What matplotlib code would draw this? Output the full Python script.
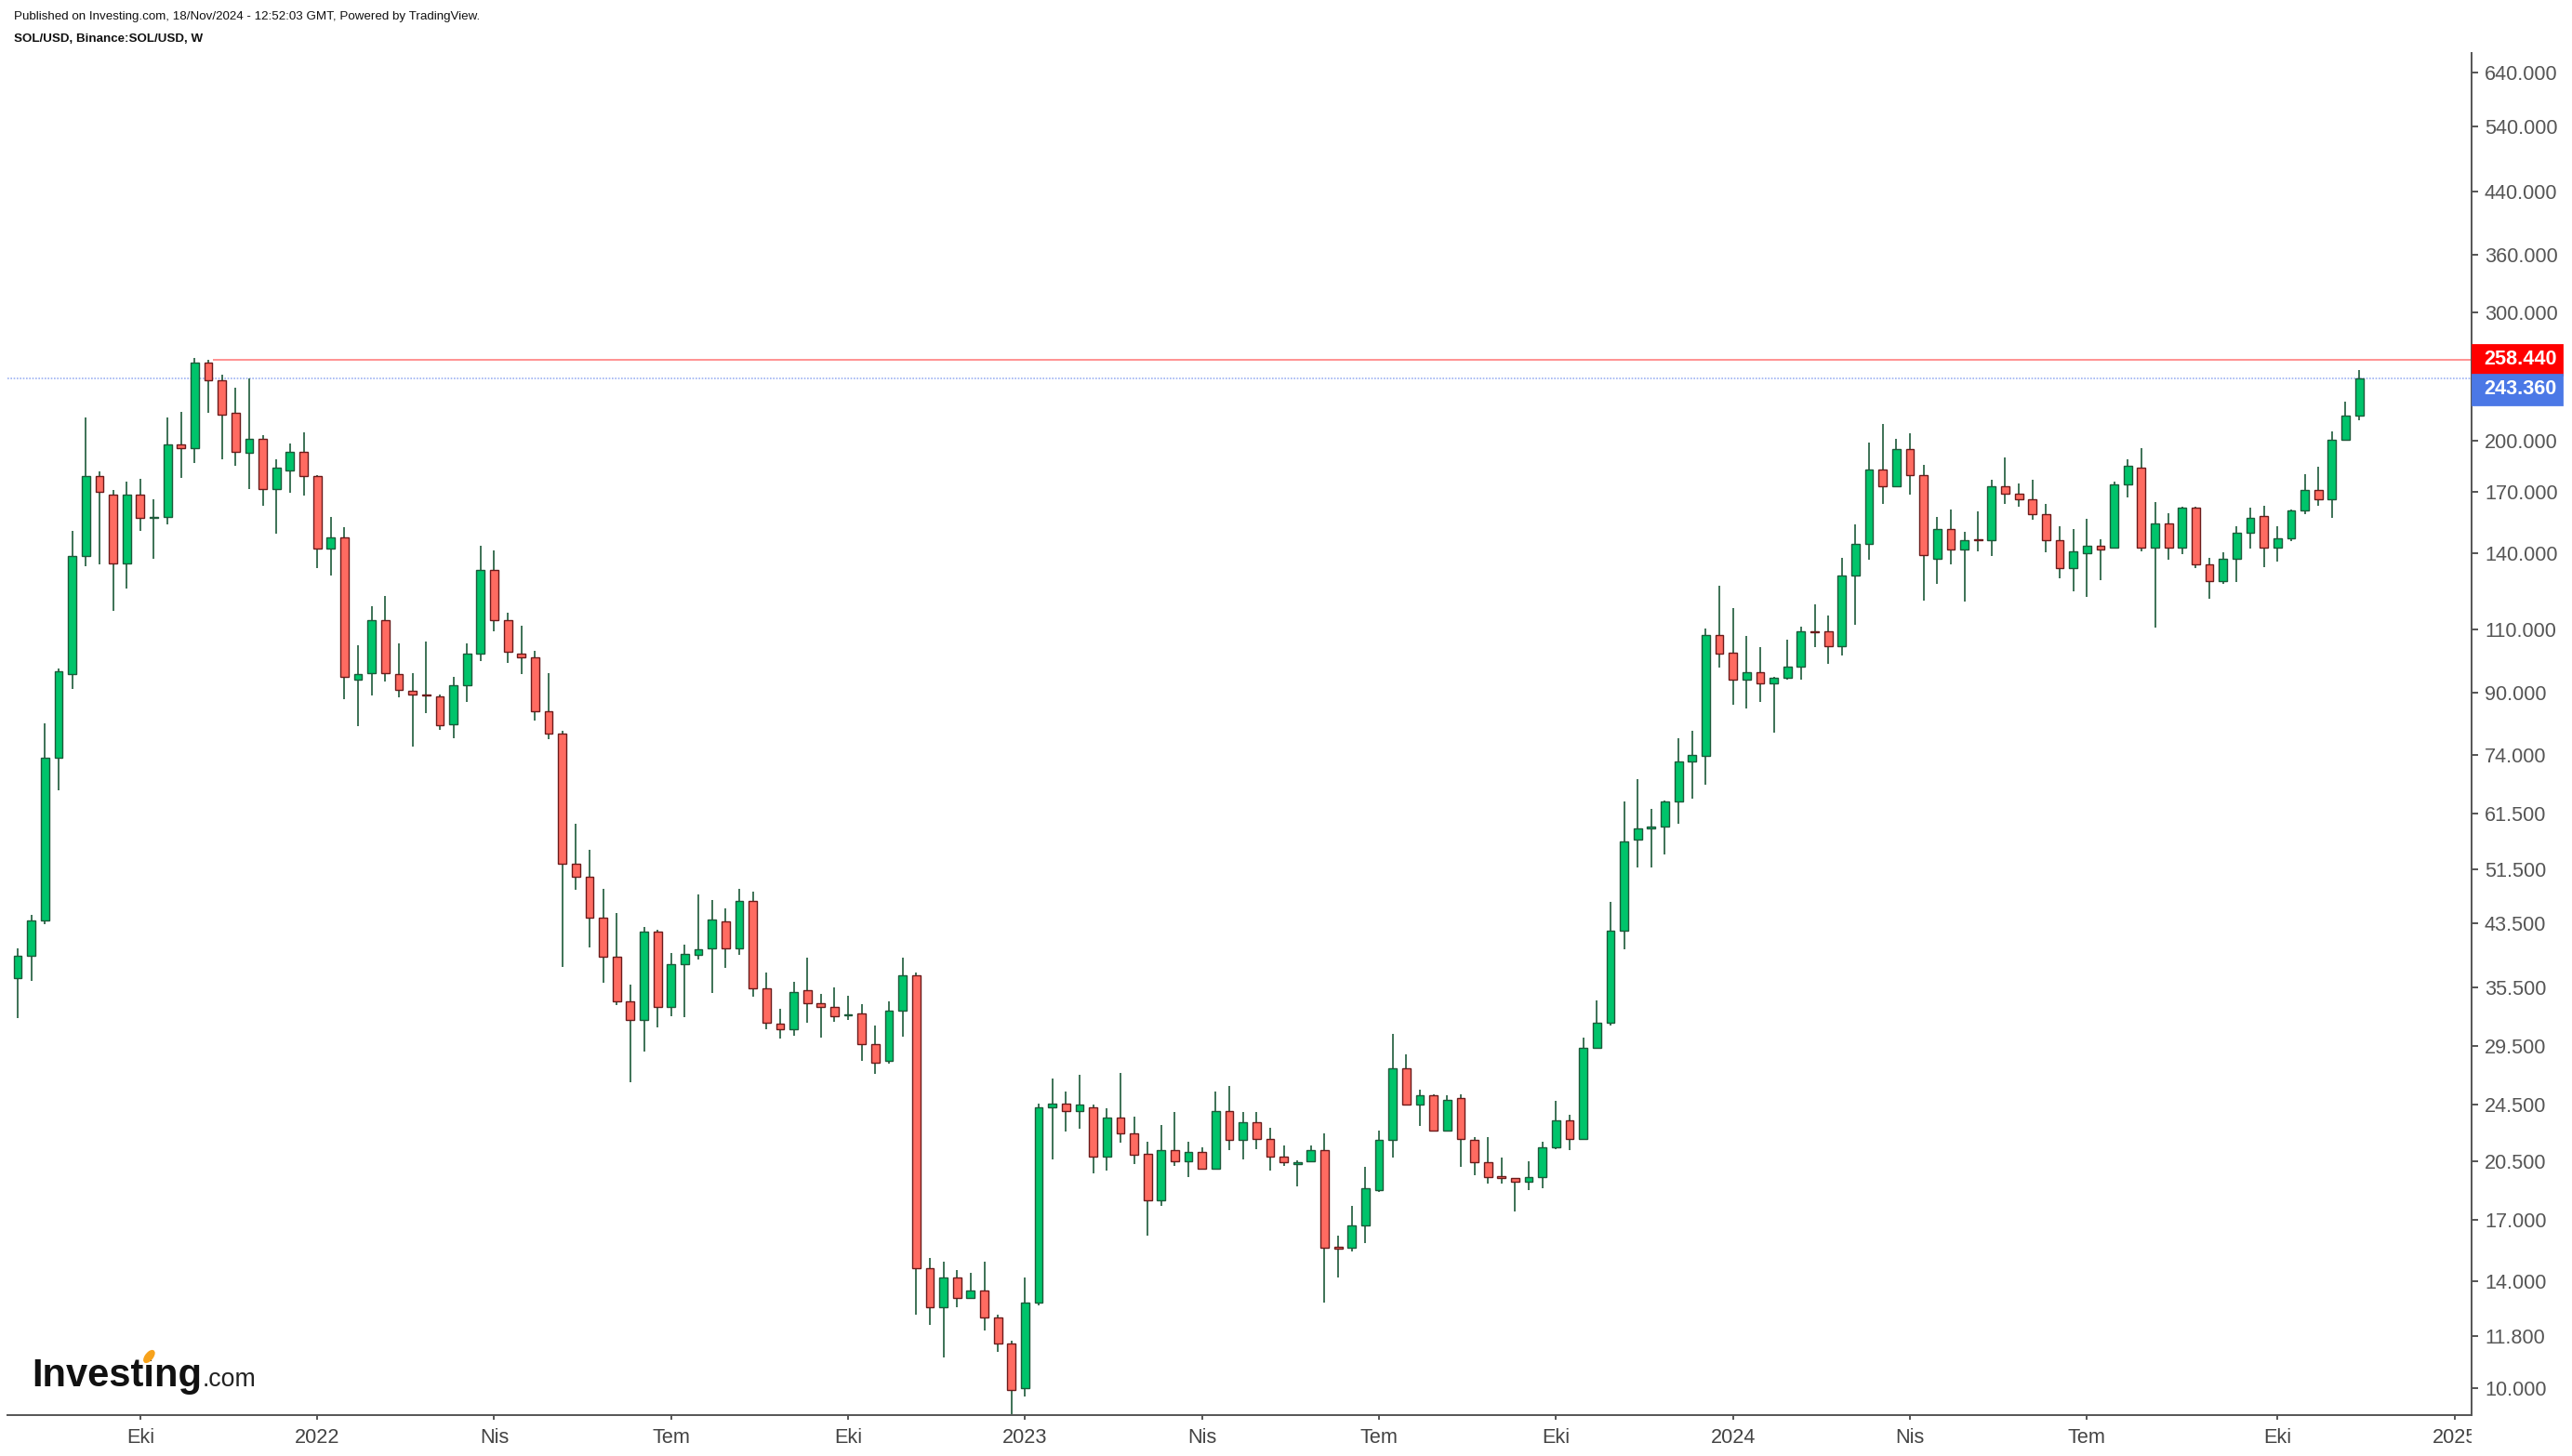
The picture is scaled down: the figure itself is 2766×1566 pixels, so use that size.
import pandas as pd
import matplotlib
matplotlib.use("Agg")
import matplotlib.pyplot as plt
import matplotlib.dates as mdates
from matplotlib.patches import Rectangle, Ellipse
from matplotlib.transforms import Bbox, TransformedBbox

W, H, DPI = 2766, 1566, 200

# SOL/USD weekly candles (Binance), first bar = week of 2 Aug 2021
first_week = "2021-08-02"
opens = [
    36.5, 39.2, 43.9, 73.3, 95.6, 138.8, 178.9, 168.8, 135.6, 168.8,
    156.6, 157.0, 197.8, 195.5, 256.0, 242.3, 218.6, 192.3, 201.3, 171.8,
    182.2, 193.2, 178.9, 142.3, 147.2, 94.0, 95.8, 113.5, 95.6, 90.6,
    89.6, 89.0, 81.6, 92.3, 102.0, 132.8, 113.4, 102.0, 100.9, 85.0,
    79.2, 52.5, 50.4, 44.3, 39.1, 34.0, 32.0, 42.3, 33.4, 38.2,
    39.3, 40.1, 43.7, 40.1, 46.7, 35.4, 31.6, 31.1, 35.2, 33.8,
    33.4, 32.5, 32.7, 29.7, 28.1, 33.0, 36.9, 14.6, 12.9, 14.2,
    13.3, 13.6, 12.5, 11.5, 9.99, 13.1, 24.3, 24.6, 24.0, 24.3,
    20.8, 23.5, 22.4, 21.0, 18.1, 21.2, 20.5, 21.1, 20.0, 24.0,
    21.9, 23.2, 22.0, 20.8, 20.3, 20.5, 21.2, 15.65, 15.6, 16.7,
    18.7, 21.9, 27.5, 24.5, 25.2, 22.6, 25.0, 21.9, 20.4, 19.55,
    19.4, 19.2, 19.5, 21.4, 23.3, 22.0, 29.3, 31.7, 42.4, 56.6,
    58.6, 59.0, 63.8, 72.5, 73.8, 108.2, 102.2, 93.9, 96.1, 92.8,
    94.5, 97.8, 109.3, 109.5, 104.3, 130.4, 144.2, 182.6, 172.9, 194.8,
    179.5, 137.8, 151.1, 141.8, 146.5, 145.9, 173.0, 169.0, 166.2, 158.6,
    146.0, 133.6, 139.9, 143.5, 142.4, 173.9, 183.7, 142.4, 154.0, 142.4,
    161.6, 135.3, 128.1, 137.6, 149.4, 157.6, 142.5, 146.7, 160.3, 171.2,
    166.1, 200.2, 216.2,
]
highs = [
    40.1, 44.7, 81.7, 97.4, 150.1, 215.4, 181.6, 171.1, 175.4, 177.4,
    165.9, 215.4, 219.2, 260.0, 258.4, 246.6, 236.6, 243.7, 203.7, 188.7,
    198.1, 205.2, 179.5, 157.3, 151.9, 104.7, 118.5, 122.2, 105.3, 95.8,
    105.9, 89.7, 94.6, 105.3, 143.4, 141.3, 116.1, 111.4, 102.8, 95.9,
    79.9, 59.6, 54.8, 48.4, 44.9, 35.8, 42.9, 42.6, 39.6, 40.6,
    47.6, 46.8, 45.5, 48.4, 48.1, 37.2, 33.2, 36.1, 39.0, 34.8,
    35.5, 34.6, 33.7, 31.5, 34.0, 39.0, 37.2, 15.1, 14.9, 14.5,
    14.4, 14.9, 12.6, 11.6, 14.2, 24.6, 26.6, 25.5, 26.9, 24.5,
    24.2, 27.1, 23.6, 21.8, 23.0, 23.9, 21.8, 21.4, 25.5, 26.0,
    23.9, 23.9, 22.8, 21.5, 20.55, 21.5, 22.4, 16.2, 17.8, 20.1,
    22.6, 30.6, 28.7, 25.7, 25.3, 25.2, 25.3, 22.1, 22.1, 20.7,
    19.45, 20.5, 21.8, 24.8, 23.7, 30.3, 34.1, 46.5, 63.9, 68.5,
    62.4, 64.0, 78.0, 79.9, 110.4, 126.4, 117.7, 107.7, 104.0, 94.8,
    106.5, 110.9, 119.1, 114.9, 138.0, 153.4, 198.7, 210.7, 201.0, 204.6,
    185.1, 157.0, 160.8, 149.7, 159.8, 176.6, 189.5, 174.6, 176.6, 163.6,
    152.5, 151.4, 156.0, 146.3, 175.5, 188.3, 195.0, 164.6, 158.8, 162.4,
    162.4, 137.9, 140.3, 152.3, 161.7, 162.6, 152.5, 160.8, 179.8, 184.1,
    205.6, 226.2, 249.8,
]
lows = [
    32.2, 36.2, 43.4, 66.2, 91.2, 134.6, 135.4, 116.7, 125.2, 150.5,
    137.8, 153.2, 177.7, 186.3, 218.3, 188.5, 184.4, 171.5, 162.7, 149.0,
    169.5, 168.3, 133.8, 130.7, 88.4, 81.0, 89.4, 93.3, 88.9, 76.0,
    84.5, 80.1, 78.1, 87.5, 99.5, 109.3, 99.0, 95.5, 82.4, 77.9,
    37.9, 48.3, 40.3, 36.0, 33.6, 26.3, 29.0, 31.3, 32.4, 32.3,
    38.8, 34.9, 37.7, 39.3, 34.5, 31.1, 30.2, 30.5, 31.7, 30.3,
    31.8, 32.0, 28.1, 27.0, 27.9, 30.4, 12.6, 12.2, 11.0, 12.9,
    13.25, 12.0, 11.2, 9.22, 9.75, 13.0, 20.6, 22.5, 22.7, 19.7,
    19.9, 21.7, 20.3, 16.2, 17.8, 20.2, 19.5, 19.95, 19.95, 21.2,
    20.6, 21.3, 19.9, 20.2, 18.9, 20.4, 13.1, 14.2, 15.4, 15.8,
    18.6, 20.7, 24.4, 22.9, 22.5, 22.55, 20.1, 19.6, 19.1, 19.1,
    17.5, 18.7, 18.8, 21.3, 21.2, 21.9, 29.2, 31.5, 40.0, 51.8,
    51.8, 54.0, 59.6, 64.4, 67.4, 97.6, 86.8, 85.8, 87.4, 79.5,
    93.8, 93.8, 104.2, 98.8, 101.3, 111.8, 137.3, 163.8, 172.5, 168.7,
    120.7, 127.2, 135.1, 120.1, 140.8, 138.9, 163.9, 162.0, 155.5, 140.6,
    129.5, 124.3, 122.1, 128.7, 142.0, 166.9, 140.8, 110.6, 137.3, 139.8,
    133.5, 121.4, 127.2, 128.0, 142.3, 134.1, 136.5, 145.6, 158.3, 162.8,
    156.5, 200.0, 213.4,
]
closes = [
    39.2, 43.9, 73.3, 96.3, 138.8, 178.9, 169.8, 135.6, 168.8, 156.4,
    157.3, 197.8, 195.5, 256.0, 242.0, 217.3, 193.2, 201.3, 171.8, 183.3,
    193.2, 178.9, 142.3, 147.2, 94.6, 95.6, 113.5, 95.8, 90.8, 89.7,
    89.3, 81.2, 92.3, 102.0, 132.8, 113.4, 102.6, 100.9, 85.0, 79.2,
    52.5, 50.4, 44.3, 39.1, 34.0, 32.0, 42.3, 33.4, 38.2, 39.5,
    40.0, 44.0, 40.1, 46.7, 35.4, 31.7, 31.1, 35.0, 33.8, 33.4,
    32.4, 32.6, 29.7, 28.0, 33.0, 36.9, 14.6, 12.9, 14.2, 13.3,
    13.6, 12.5, 11.5, 9.93, 13.1, 24.3, 24.6, 24.0, 24.5, 20.8,
    23.5, 22.4, 20.9, 18.1, 21.2, 20.5, 21.1, 20.0, 24.0, 21.9,
    23.2, 22.0, 20.8, 20.4, 20.45, 21.2, 15.6, 15.55, 16.7, 18.8,
    21.9, 27.5, 24.5, 25.2, 22.6, 24.9, 22.0, 20.4, 19.5, 19.45,
    19.2, 19.5, 21.4, 23.3, 22.0, 29.3, 31.7, 42.5, 56.3, 58.7,
    59.0, 63.8, 72.5, 73.9, 108.2, 102.0, 93.9, 96.1, 92.8, 94.5,
    97.9, 109.4, 109.1, 104.3, 130.6, 144.4, 182.6, 172.9, 194.8, 179.3,
    139.1, 151.1, 141.6, 145.9, 146.1, 173.0, 169.0, 166.2, 158.5, 145.8,
    133.6, 141.0, 143.5, 141.7, 174.2, 184.8, 142.4, 154.0, 142.4, 161.6,
    135.2, 128.1, 137.7, 149.5, 156.7, 142.5, 146.8, 160.3, 171.2, 166.1,
    200.6, 216.6, 243.36,
]

resistance = 258.44
resistance_from = "2021-11-08"
last_price = 243.36

tick_dates = ["2021-10-04", "2022-01-03", "2022-04-04", "2022-07-04", "2022-10-03",
              "2023-01-02", "2023-04-03", "2023-07-03", "2023-10-02", "2024-01-01",
              "2024-04-01", "2024-07-01", "2024-10-07", "2025-01-06"]
tick_labels = ["Eki", "2022", "Nis", "Tem", "Eki", "2023", "Nis", "Tem", "Eki",
               "2024", "Nis", "Tem", "Eki", "2025"]
price_ticks = [640, 540, 440, 360, 300, 200, 170, 140, 110, 90, 74, 61.5, 51.5,
               43.5, 35.5, 29.5, 24.5, 20.5, 17, 14, 11.8, 10]

up_fill, up_edge = "#00C46B", "#1D5A3A"
dn_fill, dn_edge = "#FF6B61", "#6B1B1B"
wick_col = "#1D5A3A"
axis_col = "#555555"

plt.rcParams["font.family"] = ["Liberation Sans", "DejaVu Sans"]

fig = plt.figure(figsize=(W / DPI, H / DPI), dpi=DPI)
fig.patch.set_facecolor("white")
ax = fig.add_axes([8 / W, 44 / H, 2650 / W, 1465 / H])

x = mdates.date2num(pd.date_range(first_week, periods=len(opens), freq="7D").to_pydatetime())
is_up = [c >= o for o, c in zip(opens, closes)]
bottoms = [min(o, c) for o, c in zip(opens, closes)]
heights = [max(abs(c - o), 0.002 * c) for o, c in zip(opens, closes)]

ax.vlines(x, lows, highs, colors=wick_col, linewidth=0.6, zorder=2)
ax.bar(x, heights, bottom=bottoms, width=4.2,
       color=[up_fill if u else dn_fill for u in is_up],
       edgecolor=[up_edge if u else dn_edge for u in is_up],
       linewidth=0.5, zorder=3)

ax.set_yscale("log")
x0 = mdates.date2num(pd.Timestamp(first_week).to_pydatetime())
ax.set_xlim(x0 - 5.3, x0 + 1261.8)
ax.set_ylim(9.18, 681)

# horizontal levels
ax.axhline(last_price, color="#9DB2F2", linewidth=0.6, linestyle=(0, (1, 1)), zorder=1)
ax.hlines(resistance, mdates.date2num(pd.Timestamp(resistance_from).to_pydatetime()) + 2.2,
          x0 + 1261.8, color="#FF7F7F", linewidth=0.6, zorder=1)

ax.yaxis.tick_right()
ax.set_yticks(price_ticks)
ax.set_yticklabels([f"{v:.3f}" for v in price_ticks])
ax.minorticks_off()
ax.tick_params(axis="y", direction="out", length=2.4, width=0.7, color=axis_col,
               labelcolor="#555555", labelsize=7.8, pad=2.6, left=False, right=True)

ax.set_xticks(mdates.date2num(pd.to_datetime(tick_dates).to_pydatetime()))
ax.set_xticklabels(tick_labels)
ax.tick_params(axis="x", direction="out", length=1.8, width=0.7, color=axis_col,
               labelcolor="#444444", labelsize=7.8, pad=3.2)

for side in ["top", "left"]:
    ax.spines[side].set_visible(False)
for side in ["right", "bottom"]:
    ax.spines[side].set_color(axis_col)
    ax.spines[side].set_linewidth(0.7)

# clip x labels at the price axis (the "2025" label is cut there)
clip = TransformedBbox(Bbox.from_extents(0, 0, 2658 / W, 1), fig.transFigure)
for lbl in ax.get_xticklabels():
    lbl.set_clip_box(clip)
    lbl.set_clip_on(True)

fig.canvas.draw()

# price labels on the right axis
box_h = 32
y_red = ax.transData.transform((x0, resistance))[1]
red_top = y_red + box_h / 2
for top, col, val in [(red_top, "#FF0000", resistance), (red_top - box_h, "#4B78E6", last_price)]:
    fig.add_artist(Rectangle((2659 / W, (top - box_h) / H), 96 / W, box_h / H,
                             transform=fig.transFigure, color=col, zorder=5))
    fig.text(2671 / W, (top - box_h / 2) / H, f"{val:.3f}", color="white", fontsize=7.8,
             weight="bold", va="center", ha="left", zorder=6)

# header
fig.text(15 / W, 1 - 20.7 / H,
         "Published on Investing.com, 18/Nov/2024 - 12:52:03 GMT, Powered by TradingView.",
         fontsize=4.8, color="#111111", va="baseline")
fig.text(15 / W, 1 - 45 / H, "SOL/USD, Binance:SOL/USD, W",
         fontsize=4.8, weight="bold", color="#111111", va="baseline")

# logo
r = fig.canvas.get_renderer()
logo_y = (H - 1491) / H
t1 = fig.text(34 / W, logo_y, "Investing", fontsize=15, weight="bold", color="#111111", va="baseline")
part = fig.text(34 / W, logo_y, "Invest", fontsize=15, weight="bold", alpha=0, va="baseline")
fig.canvas.draw()
e1 = t1.get_window_extent(r)
ep = part.get_window_extent(r)
fig.text((e1.x1 + 1) / W, logo_y, ".com", fontsize=9.6, color="#222222", va="baseline")
fig.add_artist(Ellipse(((ep.x1 + 6) / W, (H - 1459) / H), 7 / W, 12 / H, angle=-20,
                       transform=fig.transFigure, color="#F7A21B", zorder=6))

fig.savefig("out.png", dpi=DPI, facecolor="white")
